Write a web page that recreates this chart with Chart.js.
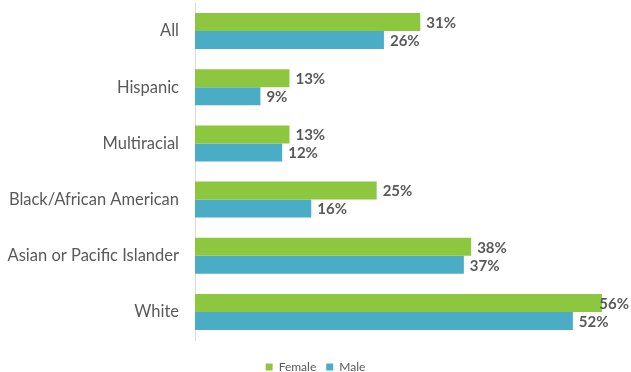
<!DOCTYPE html>
<html>
<head>
<meta charset="utf-8">
<script src="https://cdn.jsdelivr.net/npm/chart.js@4"></script>
<style>
  html, body { margin: 0; padding: 0; background: #fff; }
  #wrap { width: 631px; height: 372px; }
</style>
</head>
<body>
<div id="wrap"><canvas id="chart"></canvas></div>
<script>
const groups = ['All', 'Hispanic', 'Multiracial', 'Black/African American', 'Asian or Pacific Islander', 'White'];
const female = [31, 13, 13, 25, 38, 56];
const male = [26, 9, 12, 16, 37, 52];

// percent labels at the end of each bar
const barLabels = {
  id: 'barLabels',
  afterLayout(chart) {
    // push the legend a little lower, close to the bottom edge
    chart.legend.top += 11;
    chart.legend.bottom += 11;
  },
  afterDatasetsDraw(chart) {
    const ctx = chart.ctx;
    ctx.save();
    ctx.font = 'bold 15px Lato';
    ctx.fillStyle = '#595959';
    ctx.textBaseline = 'middle';
    ctx.textAlign = 'left';
    chart.data.datasets.forEach((ds, i) => {
      chart.getDatasetMeta(i).data.forEach((bar, j) => {
        const txt = ds.data[j] + '%';
        let x = bar.x + 6;
        const w = ctx.measureText(txt).width;
        if (x + w > chart.width - 2) x = chart.width - 2 - w;
        ctx.fillText(txt, x, bar.y + 1);
      });
    });
    ctx.restore();
  }
};

new Chart(document.getElementById('chart'), {
  type: 'bar',
  data: {
    labels: groups,
    datasets: [
      { label: 'Female', data: female, backgroundColor: '#8DC63F', categoryPercentage: 0.64, barPercentage: 1 },
      { label: 'Male', data: male, backgroundColor: '#4BACC6', categoryPercentage: 0.64, barPercentage: 1 }
    ]
  },
  options: {
    indexAxis: 'y',
    responsive: true,
    maintainAspectRatio: false,
    animation: false,
    layout: { padding: { top: 3, right: 0, left: 0, bottom: 0 } },
    scales: {
      x: { display: false, min: 0, max: 60 },
      y: {
        grid: { display: false },
        border: { display: true, color: '#d9d9d9', width: 1 },
        ticks: { color: '#595959', font: { family: 'Lato', size: 16.5 }, padding: 8 },
        afterFit(scale) {
          scale.width = 195;
          scale.paddingTop = 0;
          scale.paddingBottom = 0;
        }
      }
    },
    plugins: {
      legend: {
        position: 'bottom',
        labels: {
          boxWidth: 7, boxHeight: 7, padding: 10,
          color: '#595959',
          font: { family: 'Lato', size: 12 }
        }
      },
      tooltip: { enabled: false }
    }
  },
  plugins: [barLabels]
});
</script>
</body>
</html>
